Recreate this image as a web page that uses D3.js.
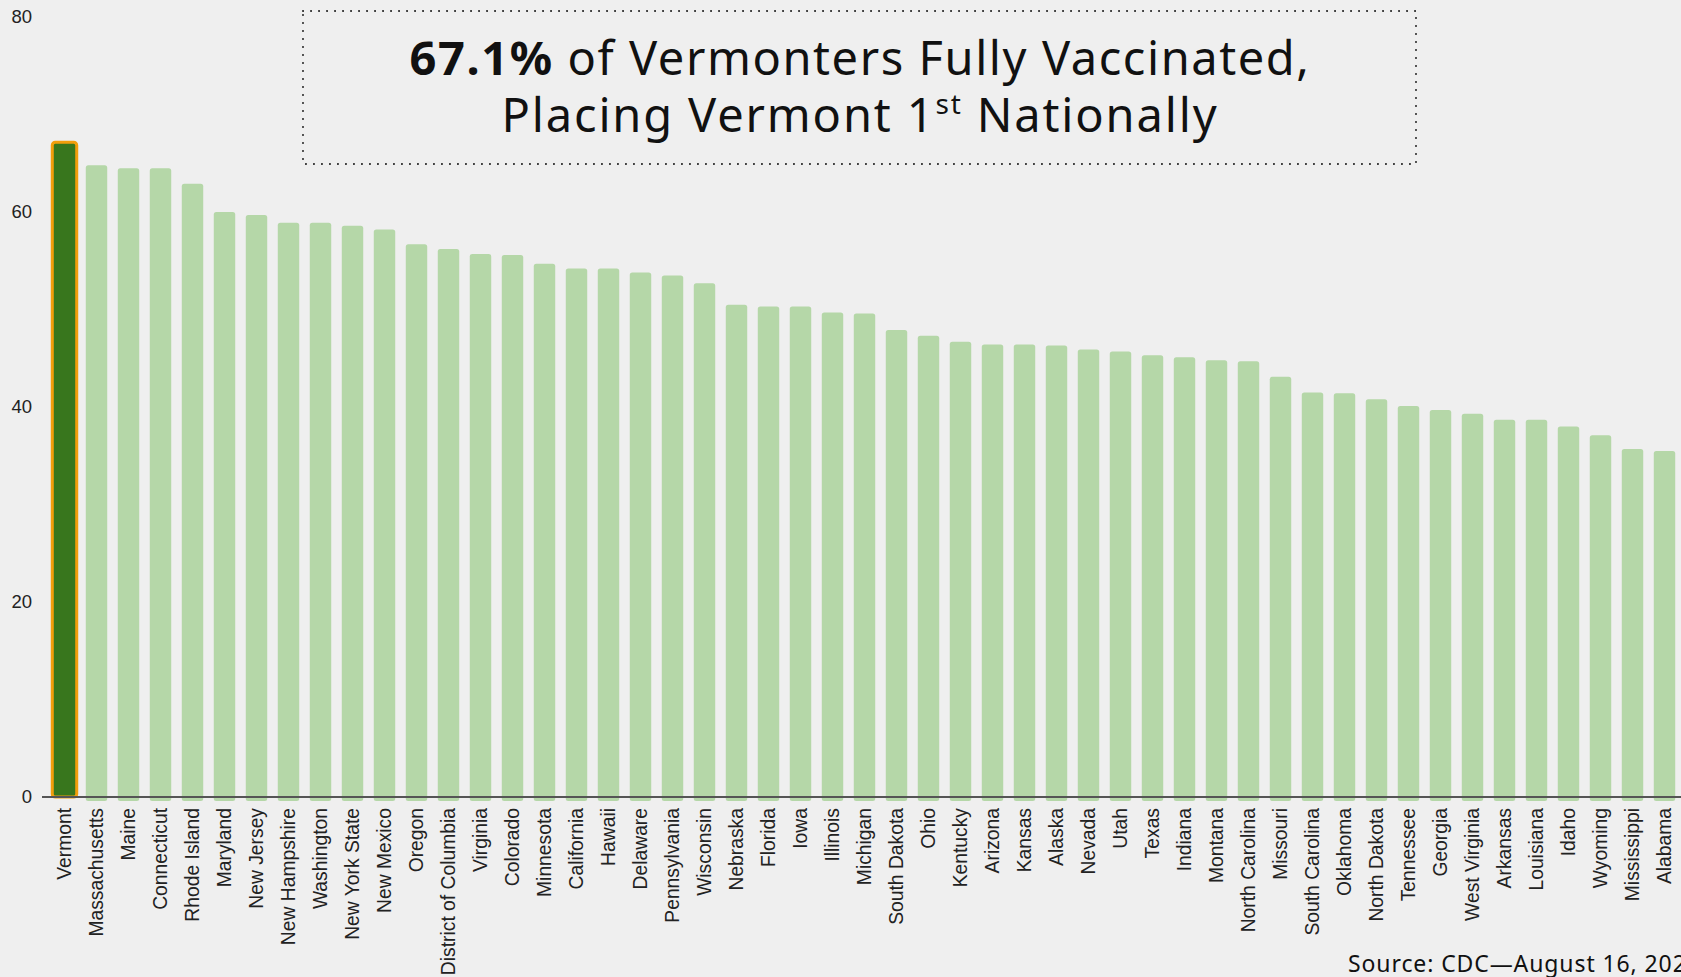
<!DOCTYPE html>
<html>
<head>
<meta charset="utf-8">
<script src="https://cdn.jsdelivr.net/npm/d3@7"></script>
<style>
  html, body { margin: 0; padding: 0; background: #efefef; overflow: hidden; }
  svg { display: block; }
</style>
</head>
<body>
<svg width="1681" height="977"></svg>
<script>
// states, sorted by share fully vaccinated (CDC, Aug 16 2021)
var states = ['Vermont', 'Massachusetts', 'Maine', 'Connecticut', 'Rhode Island', 'Maryland',
  'New Jersey', 'New Hampshire', 'Washington', 'New York State', 'New Mexico', 'Oregon',
  'District of Columbia', 'Virginia', 'Colorado', 'Minnesota', 'California', 'Hawaii',
  'Delaware', 'Pennsylvania', 'Wisconsin', 'Nebraska', 'Florida', 'Iowa', 'Illinois',
  'Michigan', 'South Dakota', 'Ohio', 'Kentucky', 'Arizona', 'Kansas', 'Alaska', 'Nevada',
  'Utah', 'Texas', 'Indiana', 'Montana', 'North Carolina', 'Missouri', 'South Carolina',
  'Oklahoma', 'North Dakota', 'Tennessee', 'Georgia', 'West Virginia', 'Arkansas',
  'Louisiana', 'Idaho', 'Wyoming', 'Mississippi', 'Alabama'];

var pctVaccinated = [67.1, 64.8, 64.5, 64.5, 62.9, 60.0,
  59.7, 58.9, 58.9, 58.6, 58.2, 56.7,
  56.2, 55.7, 55.6, 54.7, 54.2, 54.2,
  53.8, 53.5, 52.7, 50.5, 50.3, 50.3, 49.7,
  49.6, 47.9, 47.3, 46.7, 46.4, 46.4, 46.3, 45.9,
  45.7, 45.3, 45.1, 44.8, 44.7, 43.1, 41.5,
  41.4, 40.8, 40.1, 39.7, 39.3, 38.7,
  38.7, 38.0, 37.1, 35.7, 35.5];

var yTicks = [0, 20, 40, 60, 80];
var highlight = 'Vermont';

var titleBold = '67.1%';
var titleRest = ' of Vermonters Fully Vaccinated,';
var title2a = 'Placing Vermont 1';
var title2sup = 'st';
var title2b = ' Nationally';
var source = 'Source: CDC\u2014August 16, 2021';

var svg = d3.select('svg'),
  width = +svg.attr('width'),
  height = +svg.attr('height');

var data = states.map(function(s, i) { return { state: s, value: pctVaccinated[i] }; });

var base = 797;

var x = d3.scaleBand()
  .domain(states)
  .range([48.5, 48.5 + 32 * states.length])
  .paddingInner(0.33)
  .paddingOuter(0.165);

var y = d3.scaleLinear()
  .domain([0, 80])
  .range([base, 17]);

// bars
svg.append('g')
  .selectAll('rect')
  .data(data.filter(function(d) { return d.state !== highlight; }))
  .enter()
  .append('rect')
  .attr('x', function(d) { return x(d.state); })
  .attr('y', function(d) { return y(d.value); })
  .attr('width', x.bandwidth())
  .attr('height', function(d) { return base - y(d.value) + 4; })
  .attr('rx', 2.5)
  .attr('fill', '#b5d7a8');

var hl = data.filter(function(d) { return d.state === highlight; });
svg.append('g')
  .selectAll('rect')
  .data(hl)
  .enter()
  .append('rect')
  .attr('x', function(d) { return x(d.state) - 1.5; })
  .attr('y', function(d) { return y(d.value) - 0.5; })
  .attr('width', x.bandwidth() + 3)
  .attr('height', function(d) { return base - y(d.value) + 0.5; })
  .attr('rx', 3)
  .attr('fill', '#38761d')
  .attr('stroke', '#f29e0c')
  .attr('stroke-width', 3);

// baseline
svg.append('line')
  .attr('x1', 42).attr('x2', width)
  .attr('y1', base).attr('y2', base)
  .attr('stroke', '#555')
  .attr('stroke-width', 2);

// y axis labels
var yAxis = svg.append('g')
  .attr('transform', 'translate(42,0)')
  .call(d3.axisLeft(y).tickValues(yTicks).tickSize(0).tickPadding(10));
yAxis.select('.domain').remove();
yAxis.selectAll('text')
  .style('font-family', '"Liberation Sans", Arial, sans-serif')
  .style('font-size', '18.5px')
  .attr('fill', '#222');

// x axis labels
var xAxis = svg.append('g')
  .attr('transform', 'translate(0,' + base + ')')
  .call(d3.axisBottom(x).tickSize(0));
xAxis.select('.domain').remove();
xAxis.selectAll('text')
  .attr('transform', 'rotate(-90)')
  .attr('x', -11)
  .attr('y', 0)
  .attr('dy', '0.35em')
  .attr('text-anchor', 'end')
  .style('font-family', '"Liberation Sans", Arial, sans-serif')
  .style('font-size', '19.3px')
  .attr('fill', '#222');

// title box
svg.append('rect')
  .attr('x', 303).attr('y', 11)
  .attr('width', 1113).attr('height', 153)
  .attr('fill', 'none')
  .attr('stroke', '#222')
  .attr('stroke-width', 2)
  .attr('stroke-linecap', 'round')
  .attr('stroke-dasharray', '0.1,7.9');

var titleFont = '"Noto Sans", "Open Sans", sans-serif';
var title = svg.append('text')
  .attr('text-anchor', 'middle')
  .style('font-family', titleFont)
  .style('font-size', '47px')
  .attr('fill', '#111');

var line1 = title.append('tspan').attr('x', 860).attr('y', 75);
line1.append('tspan').style('font-weight', 700).text(titleBold);
line1.append('tspan').text(titleRest);

var line2 = title.append('tspan').attr('x', 860).attr('y', 132);
line2.append('tspan').text(title2a);
line2.append('tspan').style('font-size', '28px').attr('dy', -18).text(title2sup);
line2.append('tspan').attr('dy', 18).text(title2b);

// stretch title lines to the reference widths
function fit(sel, target) {
  var w = sel.node().getComputedTextLength();
  var n = sel.text().length;
  sel.style('letter-spacing', ((target - w) / n) + 'px');
}
fit(line1, 901);
fit(line2, 717);

svg.append('text')
  .attr('x', 1348).attr('y', 972)
  .style('font-family', titleFont)
  .style('font-size', '23px')
  .style('letter-spacing', '0.9px')
  .attr('fill', '#111')
  .text(source);
</script>
</body>
</html>
